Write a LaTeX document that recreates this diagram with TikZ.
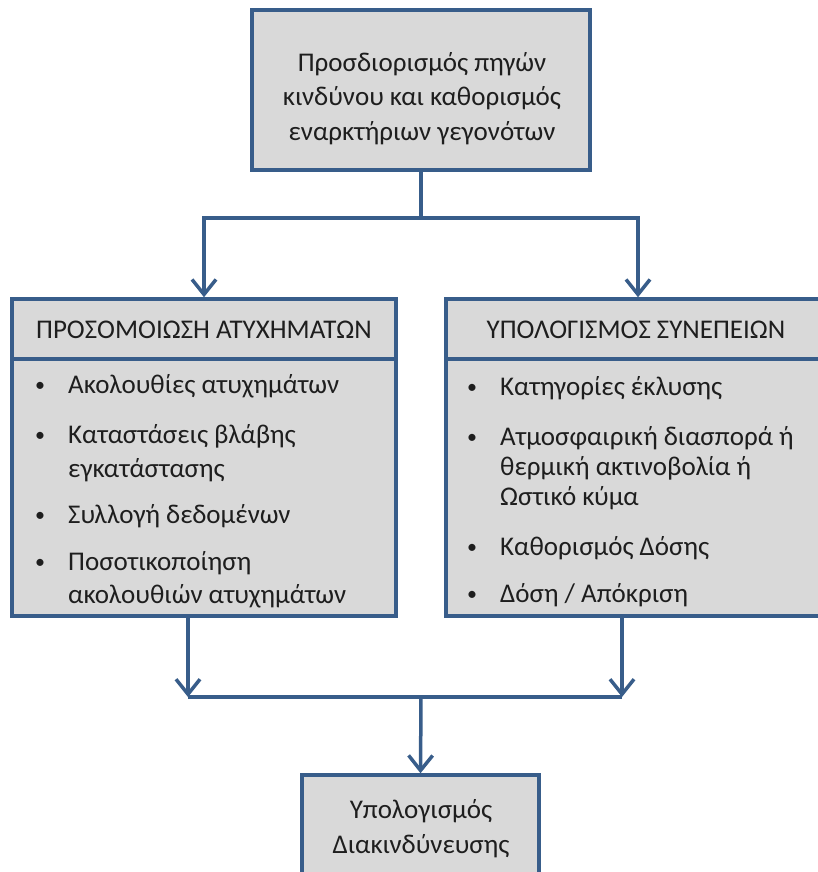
\documentclass[tikz,border=0pt]{standalone}
\usepackage{fontspec}
\setmainfont{Carlito}
\usetikzlibrary{arrows.meta}
\definecolor{edge}{RGB}{56,93,138}
\definecolor{panel}{RGB}{217,217,217}
\definecolor{ink}{RGB}{30,30,30}
\begin{document}
\begin{tikzpicture}[x=1pt,y=-1pt,
  box/.style={draw=edge, fill=panel, line width=3.5pt, inner sep=0pt},
  label/.style={inner sep=0pt, text=ink, font=\fontsize{27}{34}\selectfont, anchor=base west},
  ctext/.style={label, anchor=base},
  conn/.style={draw=edge, line width=3.5pt},
  arrow/.style={conn, -{Straight Barb[length=15pt,width=24pt]}},
  bul/.style={label, font=\fontsize{20}{24}\selectfont}]
\useasboundingbox (0,0) rectangle (818,872);
\clip (0,0) rectangle (818,872);

% top box
\node[box, minimum width=338pt, minimum height=160pt] (top) at (421,90) {};
\node[ctext] (t1) at (422,72) {Προσδιορισμός πηγών};
\node[ctext] (t2) at (422,106) {κινδύνου  και καθορισμός};
\node[ctext] (t3) at (422,140) {εναρκτήριων γεγονότων};

% accident simulation panel
\node[box, minimum width=384pt, minimum height=60pt] (acchead) at (204,329) {};
\node[box, minimum width=384pt, minimum height=257pt] (accbody) at (204,487.5) {};
\node[ctext] (acctitle) at (204,338) {ΠΡΟΣΟΜΟΙΩΣΗ ΑΤΥΧΗΜΑΤΩΝ};
\node[bul] (ab1) at (35,391) {•};
\node[label] (a1) at (68,393) {Ακολουθίες ατυχημάτων};
\node[bul] (ab2) at (35,441) {•};
\node[label] (a2) at (68,443) {Καταστάσεις βλάβης};
\node[label] (a2b) at (68,477) {εγκατάστασης};
\node[bul] (ab3) at (35,521) {•};
\node[label] (a3) at (68,523) {Συλλογή δεδομένων};
\node[bul] (ab4) at (35,568) {•};
\node[label] (a4) at (68,570) {Ποσοτικοποίηση};
\node[label] (a4b) at (68,603) {ακολουθιών ατυχημάτων};

% consequence assessment panel
\node[box, minimum width=384pt, minimum height=60pt] (conhead) at (638,329) {};
\node[box, minimum width=384pt, minimum height=257pt] (conbody) at (638,487.5) {};
\node[ctext] (contitle) at (636,338) {ΥΠΟΛΟΓΙΣΜΟΣ ΣΥΝΕΠΕΙΩΝ};
\node[bul] (cb1) at (467,393) {•};
\node[label] (c1) at (500,395) {Κατηγορίες έκλυσης};
\node[bul] (cb2) at (467,443) {•};
\node[label] (c2) at (500,445) {Ατμοσφαιρική διασπορά ή};
\node[label] (c2b) at (500,475) {θερμική ακτινοβολία ή};
\node[label] (c2c) at (500,505) {Ωστικό κύμα};
\node[bul] (cb3) at (467,553) {•};
\node[label] (c3) at (500,555) {Καθορισμός Δόσης};
\node[bul] (cb4) at (467,600) {•};
\node[label] (c4) at (500,602) {Δόση / Απόκριση};

% risk box
\node[box, minimum width=237pt, minimum height=120pt] (risk) at (420.5,835) {};
\node[ctext] (r1) at (421,818) {Υπολογισμός};
\node[ctext] (r2) at (421,853) {Διακινδύνευσης};

% connectors
\coordinate (split) at (421,218);
\draw[conn] (top.south) -- (split);
\draw[arrow] (split) -| (acchead.north);
\draw[arrow] (split) -| (conhead.north);

\coordinate (joinL) at (188,697);
\coordinate (joinR) at (622,697);
\coordinate (merge) at (421,697);
\draw[arrow] (accbody.south -| joinL) -- (joinL);
\draw[arrow] (conbody.south -| joinR) -- (joinR);
\draw[conn] (joinL) -- (joinR);
\draw[arrow] (merge) -- (risk.north);
\end{tikzpicture}
\end{document}
